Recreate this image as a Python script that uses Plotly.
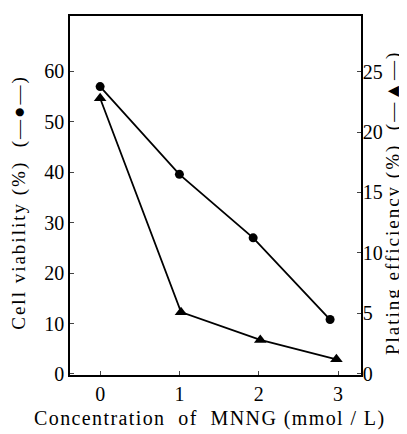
import plotly.graph_objects as go

conc_circle = [0, 1, 1.93, 2.9]
viability = [57, 39.6, 27, 10.8]
conc_tri = [0, 1.02, 2.02, 2.98]
plating = [22.8, 5.1, 2.8, 1.2]
x_ticks = [0, 1, 2, 3]
y_ticks = [0, 10, 20, 30, 40, 50, 60]
y2_ticks = [0, 5, 10, 15, 20, 25]

FONT = "Liberation Serif"

fig = go.Figure()
fig.add_trace(go.Scatter(x=conc_circle, y=viability, mode="lines+markers",
                         line=dict(color="black", width=1.8),
                         marker=dict(symbol="circle", size=9, color="black"),
                         showlegend=False, cliponaxis=False))
fig.add_trace(go.Scatter(x=conc_tri, y=plating, mode="lines+markers", yaxis="y2",
                         line=dict(color="black", width=1.8),
                         marker=dict(symbol="triangle-up", size=11, color="black"),
                         showlegend=False, cliponaxis=False))

ls_y = "letter-spacing:2px"
ls_x = "letter-spacing:1.4px"
fig.update_layout(
    width=407, height=434,
    margin=dict(l=62, r=54, t=6, b=67),
    paper_bgcolor="white", plot_bgcolor="white",
    font=dict(family=FONT, size=20, color="black"),
    xaxis=dict(range=[-0.38, 3.29], tickvals=x_ticks, ticks="inside", ticklen=4,
               showline=True, linecolor="black", linewidth=1.5, mirror=True,
               showgrid=False, zeroline=False, tickfont=dict(size=20)),
    yaxis=dict(range=[-0.2, 71], tickvals=y_ticks, ticks="inside", ticklen=4,
               showline=True, linecolor="black", linewidth=1.5,
               showgrid=False, zeroline=False, tickfont=dict(size=20)),
    yaxis2=dict(range=[-0.1, 29.6], tickvals=y2_ticks, ticks="inside", ticklen=4,
                overlaying="y", side="right", ticklabelstandoff=-4,
                showline=True, linecolor="black", linewidth=1.5,
                showgrid=False, zeroline=False, tickfont=dict(size=20)),
    annotations=[
        dict(text=f"<span style='{ls_y}'>Cell viability (%)  (—●—)</span>",
             xref="paper", yref="paper", x=-0.175, y=0.48, textangle=-90,
             showarrow=False, font=dict(size=19), xanchor="center", yanchor="middle"),
        dict(text=f"<span style='{ls_y}'>Plating efficiency (%)  (—▲—)</span>",
             xref="paper", yref="paper", x=1.108, y=0.48, textangle=-90,
             showarrow=False, font=dict(size=19), xanchor="center", yanchor="middle"),
        dict(text=f"<span style='{ls_x}'>Concentration  of  MNNG (mmol / L)</span>",
             xref="paper", yref="paper", x=0.48, y=-0.12,
             showarrow=False, font=dict(size=20), xanchor="center", yanchor="middle"),
    ],
)

fig.write_html("out.html")
